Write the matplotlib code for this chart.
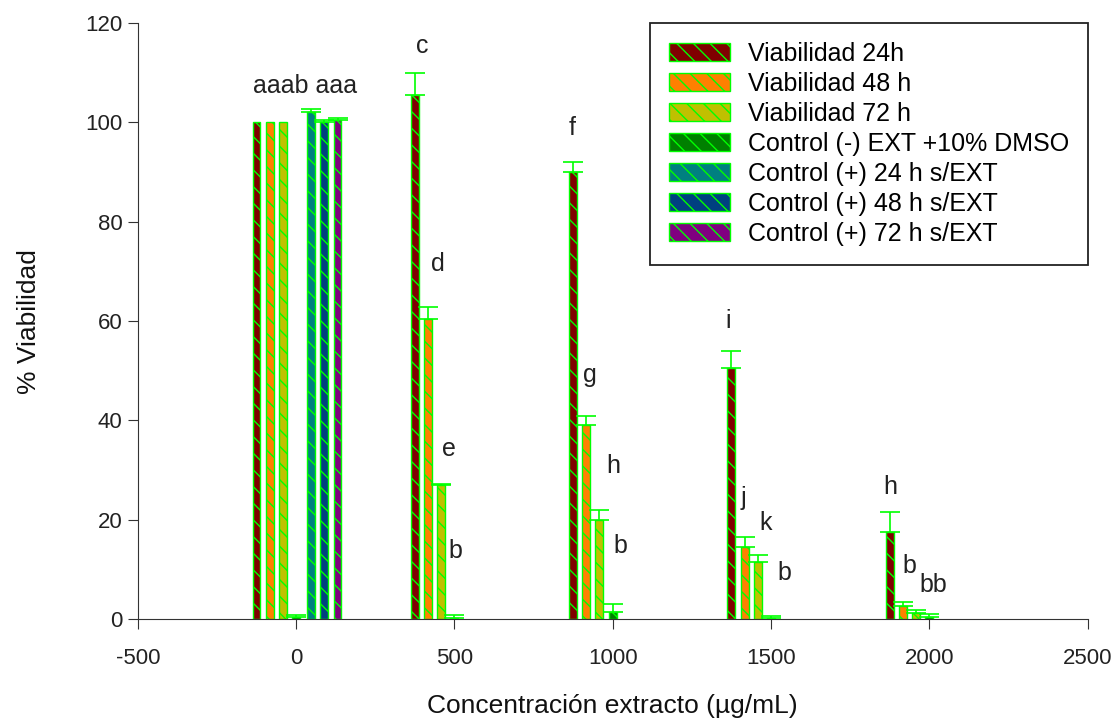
import matplotlib
matplotlib.use("Agg")
import matplotlib.pyplot as plt
import numpy as np

plt.rcParams['font.family'] = ['Liberation Sans', 'DejaVu Sans']
plt.rcParams['hatch.color'] = '#00ff00'
plt.rcParams['hatch.linewidth'] = 1.0
plt.rcParams['axes.unicode_minus'] = False

# Konzentrationen (x)
conc = [0, 500, 1000, 1500, 2000]

# Viabilität je Zeitpunkt (Mittelwert und Fehler nach oben)
via_24 = [100, 105.5, 90, 50.5, 17.5]
err_24 = [0, 4.5, 2, 3.5, 4]
via_48 = [100, 60.5, 39, 14.5, 2.7]
err_48 = [0, 2.3, 2, 2, 0.8]
via_72 = [100, 27, 20, 11.5, 1.2]
err_72 = [0, 0.2, 2, 1.5, 0.6]
ctrl_neg = [0.5, 0.3, 1.5, 0.2, 0.5]
err_neg = [0.3, 0.5, 1.5, 0.5, 0.5]

# Positive Kontrollen nur bei 0
ctrl_pos = [102, 100, 100.5]
err_pos = [0.6, 0.4, 0.4]

labels = ['Viabilidad 24h', 'Viabilidad 48 h', 'Viabilidad 72 h',
          'Control (-) EXT +10% DMSO', 'Control (+) 24 h s/EXT',
          'Control (+) 48 h s/EXT', 'Control (+) 72 h s/EXT']
colors = ['#800000', '#ff8000', '#c0c000', '#008000', '#008080', '#004080', '#800080']

# Buchstaben (Signifikanz) mit Position
letters = ['aaab aaa', 'c', 'd', 'e', 'b', 'f', 'g', 'h', 'b', 'i', 'j', 'k', 'b', 'h', 'b', 'bb']
letter_x = [30, 400, 447, 484, 503, 871, 928, 1003, 1025, 1365, 1412, 1484, 1541, 1878, 1937, 2013]
letter_y = [107.3, 115.4, 71.5, 34.2, 13.7, 98.9, 49.2, 30.8, 14.7, 60.1, 24.3, 19.3, 9.2, 26.7, 10.7, 6.8]

fig = plt.figure(figsize=(11.2, 7.2), dpi=100)
ax = fig.add_axes([0.123, 0.14, 0.848, 0.828])

width = 25
offsets = [-125, -83, -42, 0]
green = '#00ff00'
x = np.array(conc)

series = [(via_24, err_24), (via_48, err_48), (via_72, err_72), (ctrl_neg, err_neg)]
for i, (vals, errs) in enumerate(series):
    ax.bar(x + offsets[i], vals, width=width, color=colors[i], edgecolor=green,
           hatch='\\\\', linewidth=1, label=labels[i], zorder=2)
    e = np.array(errs)
    mask = e > 0
    ax.errorbar((x + offsets[i])[mask], np.array(vals)[mask],
                yerr=[np.zeros(mask.sum()), e[mask]], fmt='none',
                ecolor=green, capsize=7, elinewidth=1.2, capthick=1.2, zorder=3)

pos_offsets = [47, 89, 131]
for j in range(3):
    ax.bar(pos_offsets[j], ctrl_pos[j], width=width, color=colors[4 + j],
           edgecolor=green, hatch='\\\\', linewidth=1, label=labels[4 + j], zorder=2)
    ax.errorbar(pos_offsets[j], ctrl_pos[j], yerr=[[0], [err_pos[j]]], fmt='none',
                ecolor=green, capsize=7, elinewidth=1.2, capthick=1.2, zorder=3)

for t, tx, ty in zip(letters, letter_x, letter_y):
    ax.text(tx, ty, t, ha='center', va='center', fontsize=18, color='#222222')

ax.set_xlim(-500, 2500)
ax.set_ylim(0, 120)
ax.set_xticks([-500, 0, 500, 1000, 1500, 2000, 2500])
ax.set_yticks([0, 20, 40, 60, 80, 100, 120])
ax.spines['top'].set_visible(False)
ax.spines['right'].set_visible(False)
ax.spines['left'].set_color('#333333')
ax.spines['bottom'].set_color('#333333')
ax.tick_params(labelsize=16, direction='out', length=7, color='#333333', labelcolor='#222222')
ax.tick_params(axis='x', pad=14)
ax.tick_params(axis='y', pad=4)
ax.set_xlabel('Concentración extracto (µg/mL)', fontsize=19, labelpad=18, color='#111111')
ax.set_ylabel('% Viabilidad', fontsize=19, labelpad=32, color='#111111')

leg = ax.legend(loc='upper right', bbox_to_anchor=(1.0, 1.0), borderaxespad=0,
                fontsize=18, fancybox=False, edgecolor='#222222', framealpha=1,
                handlelength=2.45, handleheight=0.7, labelspacing=0.24,
                borderpad=0.75, handletextpad=0.7)
leg.get_frame().set_linewidth(1.3)

fig.savefig('out.png', dpi=100)
